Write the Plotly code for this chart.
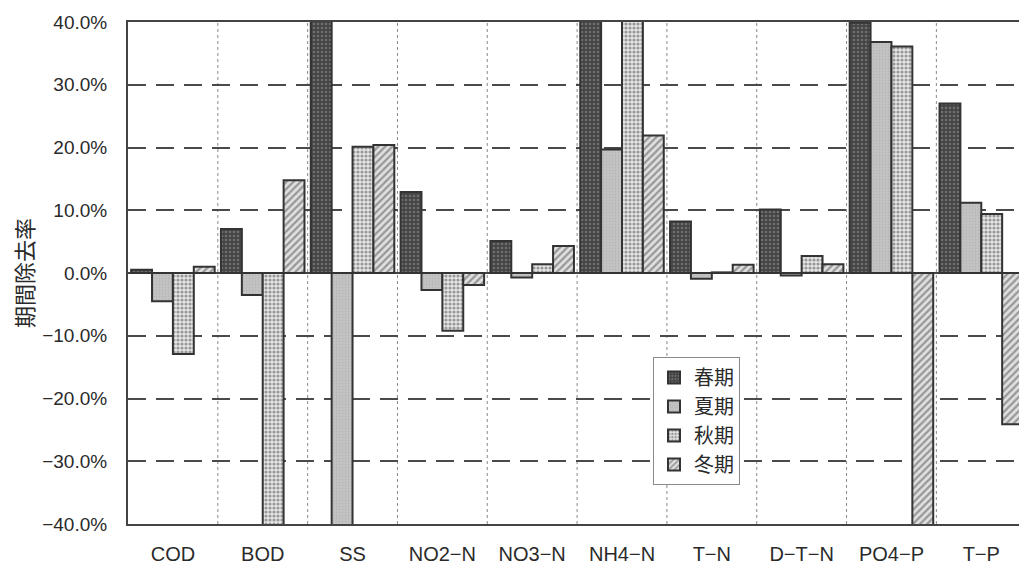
import plotly.graph_objects as go

# Removal rate per parameter and season (%)
categories = ["COD", "BOD", "SS", "NO2−N", "NO3−N", "NH4−N", "T−N", "D−T−N", "PO4−P", "T−P"]
spring = [0.5, 7.0, 62.0, 12.9, 5.1, 55.0, 8.2, 10.1, 39.9, 27.0]
summer = [-4.5, -3.5, -60.0, -2.7, -0.7, 19.7, -0.9, -0.4, 36.8, 11.2]
autumn = [-12.9, -55.0, 20.1, -9.2, 1.4, 58.0, 0.1, 2.7, 36.1, 9.4]
winter = [1.0, 14.8, 20.4, -1.9, 4.3, 21.9, 1.3, 1.4, -60.0, -24.1]

series_names = ["春期", "夏期", "秋期", "冬期"]
series_values = [spring, summer, autumn, winter]

y_ticks = list(range(-40, 41, 10))
y_tick_labels = [f"{v:.1f}%".replace("-", "−") for v in y_ticks]

patterns = [
    dict(shape=".", bgcolor="#444444", fgcolor="#9a9a9a", size=4, solidity=0.35),
    dict(shape=".", bgcolor="#c4c4c4", fgcolor="#a8a8a8", size=3, solidity=0.3),
    dict(shape=".", bgcolor="#e6e6e6", fgcolor="#4a4a4a", size=4, solidity=0.5),
    dict(shape="/", bgcolor="#e0e0e0", fgcolor="#4e4e4e", size=5, solidity=0.45),
]

fig = go.Figure()
for name, vals, pat in zip(series_names, series_values, patterns):
    fig.add_trace(go.Bar(
        x=categories, y=vals, name=name,
        marker=dict(color=pat["bgcolor"], pattern=pat,
                    line=dict(color="#333333", width=2)),
    ))

# dotted separators between category groups
for i in range(len(categories) - 1):
    fig.add_shape(type="line", xref="x", yref="paper",
                  x0=i + 0.5, x1=i + 0.5, y0=0, y1=1,
                  line=dict(color="#8a8a8a", width=1, dash="3px,3px"),
                  layer="below")

latin = "Liberation Sans, Arial, sans-serif"

fig.update_layout(
    width=1019, height=565,
    margin=dict(l=128, r=0, t=22, b=41),
    paper_bgcolor="white", plot_bgcolor="white",
    barmode="group", bargap=0.07, bargroupgap=0,
    showlegend=True,
    legend=dict(
        x=(653 - 128) / 891, y=(524 - 357) / 502,
        xanchor="left", yanchor="top",
        bgcolor="white", bordercolor="#8a8a8a", borderwidth=1,
        font=dict(family="Noto Sans CJK JP", size=20, color="#2a2a2a"),
        itemwidth=30,
    ),
    xaxis=dict(
        range=[-0.5, 9.42],
        showgrid=False, showline=True, mirror=True,
        linecolor="#444444", linewidth=2,
        ticks="", ticklabelstandoff=11,
        tickfont=dict(family=latin, size=20, color="#2a2a2a"),
    ),
    yaxis=dict(
        range=[-40, 40], tickmode="array",
        tickvals=y_ticks, ticktext=y_tick_labels,
        showgrid=True, gridcolor="#4a4a4a", gridwidth=2, griddash="18px,10px",
        zeroline=True, zerolinecolor="#444444", zerolinewidth=2,
        showline=True, mirror=False, linecolor="#444444", linewidth=2,
        ticks="", ticklabelstandoff=15,
        tickfont=dict(family=latin, size=19, color="#2a2a2a"),
    ),
    annotations=[dict(
        text="期間除去率", textangle=-90,
        xref="paper", yref="paper", x=(23 - 128) / 891, y=0.5,
        xanchor="center", yanchor="middle", showarrow=False,
        font=dict(family="Noto Sans CJK JP", size=22, color="#2a2a2a"),
    )],
)

fig.write_html("out.html")
